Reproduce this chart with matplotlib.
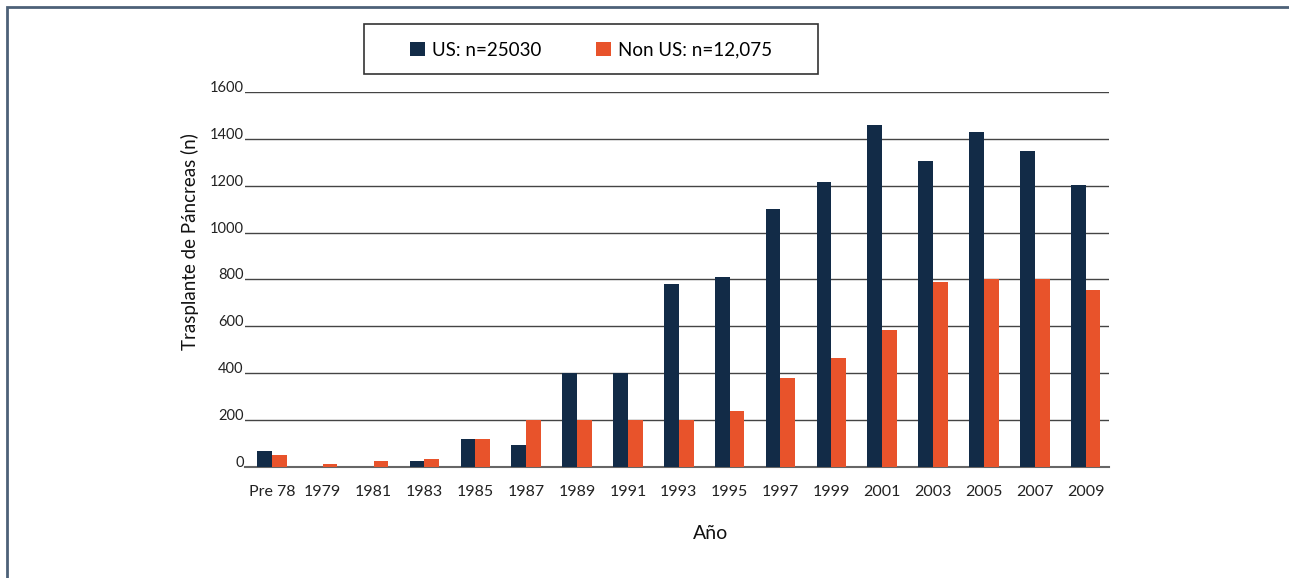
import matplotlib.pyplot as plt
import matplotlib.patches as patches
import numpy as np

plt.rcParams['font.family'] = ['Lato', 'DejaVu Sans']

anios = ['Pre 78', '1979', '1981', '1983', '1985', '1987', '1989', '1991', '1993',
         '1995', '1997', '1999', '2001', '2003', '2005', '2007', '2009']
us = [70, 0, 0, 25, 120, 95, 400, 400, 780, 810, 1100, 1215, 1460, 1305, 1430, 1350, 1205]
non_us = [50, 15, 25, 35, 120, 200, 200, 200, 200, 240, 380, 465, 585, 790, 800, 800, 755]

azul = '#122b47'
naranja = '#e8532b'

fig = plt.figure(figsize=(12.89, 5.78), dpi=100)
ax = fig.add_axes([0.190, 0.192, 0.670, 0.649])

# marco exterior
fig.patches.append(patches.Rectangle((7/1289, -0.1), 1.2, 1 - 7/578 + 0.1,
                                     transform=fig.transFigure, fill=False,
                                     edgecolor='#4d6178', linewidth=2))
# caja de la leyenda
fig.patches.append(patches.Rectangle((364/1289, 1 - 74/578), 454/1289, 50/578,
                                     transform=fig.transFigure, fill=False,
                                     edgecolor='#333333', linewidth=1.2))

x = np.arange(len(anios))
w = 0.29
b1 = ax.bar(x - w/2, us, width=w, color=azul, zorder=3)
b2 = ax.bar(x + w/2, non_us, width=w, color=naranja, zorder=3)

ax.set_xlim(-0.53, 16.45)
ax.set_ylim(0, 1600)
ax.set_yticks(range(0, 1601, 200))
ax.yaxis.grid(True, color='#444444', linewidth=1)
ax.set_axisbelow(True)
for s in ['left', 'right', 'top']:
    ax.spines[s].set_visible(False)
ax.spines['bottom'].set_color('#666666')
ax.spines['bottom'].set_linewidth(1.5)

ax.set_xticks(x)
ax.set_xticklabels(anios)
ax.tick_params(axis='x', length=0, pad=13, labelsize=11.5, colors='#222222')
ax.tick_params(axis='y', length=0, pad=1, labelsize=10.5, colors='#222222')
for lab in ax.get_yticklabels():
    lab.set_verticalalignment('baseline')

ax.set_ylabel('Trasplante de Páncreas (n)', fontsize=13.5, color='#111111')
ax.yaxis.label.set_va('center')
ax.yaxis.set_label_coords(-0.064, 0.6)
ax.set_xlabel('Año', fontsize=14, color='#111111')
ax.xaxis.label.set_va('center')
ax.xaxis.set_label_coords(0.539, -0.176)

leg = fig.legend([b1, b2], ['US: n=25030', 'Non US: n=12,075'], ncol=2,
                 loc='center', bbox_to_anchor=(591/1289, 1 - 50/578),
                 fontsize=13.5, frameon=False, handlelength=0.8,
                 handleheight=0.7, handletextpad=0.4, columnspacing=2.9,
                 borderaxespad=0)

fig.savefig('out.png', dpi=100)
